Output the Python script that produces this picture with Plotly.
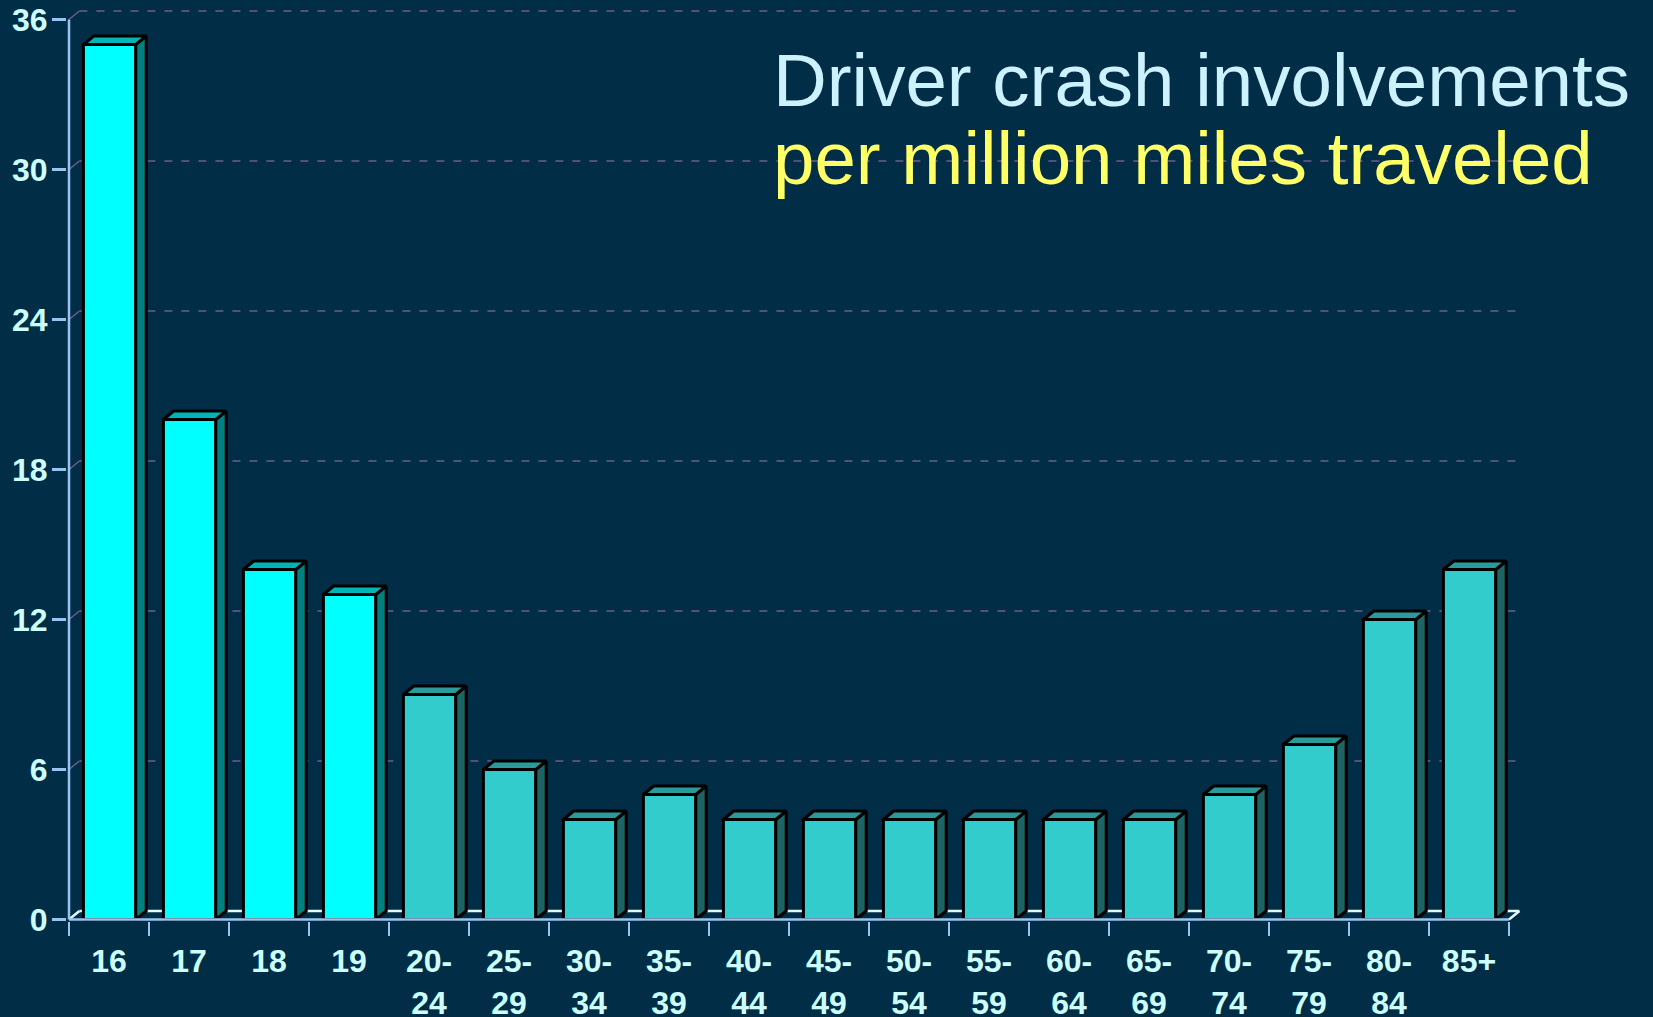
import plotly.graph_objects as go

# ---------------- data ----------------
age_groups = ["16", "17", "18", "19", "20-24", "25-29", "30-34", "35-39", "40-44",
              "45-49", "50-54", "55-59", "60-64", "65-69", "70-74", "75-79", "80-84", "85+"]
crash_rate = [35, 20, 14, 13, 9, 6, 4, 5, 4, 4, 4, 4, 4, 4, 5, 7, 12, 14]
y_tick_values = [0, 6, 12, 18, 24, 30, 36]
title_line1 = "Driver crash involvements"
title_line2 = "per million miles traveled"

# ---------------- style ----------------
BG = "#022D46"
AXIS = "#99C4F2"
LABEL = "#CCFFFF"
GRID = "#6A5E8E"
FLOOR = "#E4FAFF"
HIGHLIGHT_COUNT = 4
FRONT_HI, TOP_HI, SIDE_HI = "#00FFFF", "#00B5B5", "#008080"
FRONT, TOP, SIDE = "#33CCCC", "#2A9A9A", "#1E6464"
OFF, W = -0.32, 0.655       # bar front face offset / width (category units)
DX, DY = 0.13, 0.34         # 3D depth in data units

W_PX, H_PX = 1653, 1017
ML, MR, MT, MB = 67, 124, 5, 96
X_RANGE = [-0.525, 17.75]
Y_RANGE = [-0.06, 36.58]

n = len(age_groups)
x_pos = list(range(n))
ticktext = [g.replace("-", "-<br>") for g in age_groups]
front_colors = [FRONT_HI if i < HIGHLIGHT_COUNT else FRONT for i in range(n)]

fig = go.Figure()

fig.add_trace(go.Bar(
    x=x_pos, y=crash_rate, width=W, offset=OFF,
    marker=dict(color=front_colors, line=dict(color="black", width=3)),
    hoverinfo="skip", showlegend=False,
))

def faces(indices):
    top_x, top_y, side_x, side_y = [], [], [], []
    for i in indices:
        v = crash_rate[i]
        xl = x_pos[i] + OFF
        xr = xl + W
        top_x += [xl, xl + DX, xr + DX, xr, xl, None]
        top_y += [v, v + DY, v + DY, v, v, None]
        side_x += [xr, xr, xr + DX, xr + DX, xr, None]
        side_y += [0, v, v + DY, DY, 0, None]
    return top_x, top_y, side_x, side_y

for idx, tc, sc in [(range(0, HIGHLIGHT_COUNT), TOP_HI, SIDE_HI),
                    (range(HIGHLIGHT_COUNT, n), TOP, SIDE)]:
    tx, ty, sx, sy = faces(list(idx))
    fig.add_trace(go.Scatter(x=sx, y=sy, mode="lines", fill="toself", fillcolor=sc,
                             line=dict(color="black", width=3), hoverinfo="skip",
                             showlegend=False))
    fig.add_trace(go.Scatter(x=tx, y=ty, mode="lines", fill="toself", fillcolor=tc,
                             line=dict(color="black", width=3), hoverinfo="skip",
                             showlegend=False))

x_left, x_right = -0.5, n - 0.5
shapes = []
# back-wall gridlines with connectors
for v in y_tick_values[1:]:
    shapes.append(dict(type="line", xref="x", yref="y", x0=x_left + DX, x1=x_right + DX + 0.05,
                       y0=v + DY, y1=v + DY, layer="below",
                       line=dict(color=GRID, width=1.5, dash="8px,9px")))
    shapes.append(dict(type="line", xref="x", yref="y", x0=x_left, x1=x_left + DX,
                       y0=v, y1=v + DY, layer="below", line=dict(color=GRID, width=1.5)))
# floor back edge
shapes.append(dict(type="line", xref="x", yref="y", x0=x_left + DX, x1=x_right + DX,
                   y0=DY, y1=DY, layer="below", line=dict(color=FLOOR, width=2.5)))
shapes.append(dict(type="line", xref="x", yref="y", x0=x_left, x1=x_left + DX,
                   y0=0, y1=DY, layer="below", line=dict(color=FLOOR, width=2.5)))
shapes.append(dict(type="line", xref="x", yref="y", x0=x_right, x1=x_right + DX,
                   y0=0, y1=DY, layer="above", line=dict(color=FLOOR, width=2.5)))
# front axis lines
shapes.append(dict(type="line", xref="x", yref="y", x0=x_left, x1=x_right, y0=0, y1=0,
                   layer="above", line=dict(color=AXIS, width=2.5)))
shapes.append(dict(type="line", xref="x", yref="y", x0=x_left, x1=x_left, y0=0,
                   y1=y_tick_values[-1], layer="above", line=dict(color=AXIS, width=2.5)))

plot_h = H_PX - MT - MB
plot_w = W_PX - ML - MR

def px_to_paper(xp, yp):
    return (xp - ML) / plot_w, (H_PX - MB - yp) / plot_h

ax1, ay1 = px_to_paper(771, 80)
ax2, ay2 = px_to_paper(771, 158)
annotations = [
    dict(text=title_line1, xref="paper", yref="paper", x=ax1, y=ay1, xanchor="left",
         yanchor="middle", showarrow=False,
         font=dict(family="Liberation Sans, Arial, sans-serif", size=74.5, color="#CCF2FF")),
    dict(text=title_line2, xref="paper", yref="paper", x=ax2, y=ay2, xanchor="left",
         yanchor="middle", showarrow=False,
         font=dict(family="Liberation Sans, Arial, sans-serif", size=74.5, color="#FFFF66")),
]

tick_font = dict(family="Liberation Sans, Arial, sans-serif", size=32, color=LABEL,
                 weight="bold")

fig.update_layout(
    width=W_PX, height=H_PX,
    margin=dict(l=ML, r=MR, t=MT, b=MB, pad=0),
    paper_bgcolor=BG, plot_bgcolor=BG,
    showlegend=False,
    shapes=shapes,
    annotations=annotations,
    xaxis=dict(range=X_RANGE, tickmode="array", tickvals=x_pos, ticktext=ticktext,
               ticks="outside", ticklen=14, tickcolor="rgba(0,0,0,0)",
               showgrid=False, zeroline=False, showline=False, tickfont=tick_font,
               automargin=False, fixedrange=True, ticklabelstandoff=-2,
               minor=dict(tickmode="array", tickvals=[i - 0.5 for i in range(n + 1)],
                          ticks="outside", ticklen=14, tickwidth=2.5, tickcolor=AXIS,
                          showgrid=False)),
    yaxis=dict(range=Y_RANGE, tickmode="array", tickvals=y_tick_values,
               ticks="outside", ticklen=14, tickwidth=2.5, tickcolor=AXIS,
               showgrid=False, zeroline=False, showline=False, tickfont=tick_font,
               automargin=False, fixedrange=True, ticklabelstandoff=-2),
)

fig.write_html(
    "out.html",
    config={"displayModeBar": False, "staticPlot": True},
    post_script="document.body.style.margin='0';document.body.style.overflow='hidden';",
)
